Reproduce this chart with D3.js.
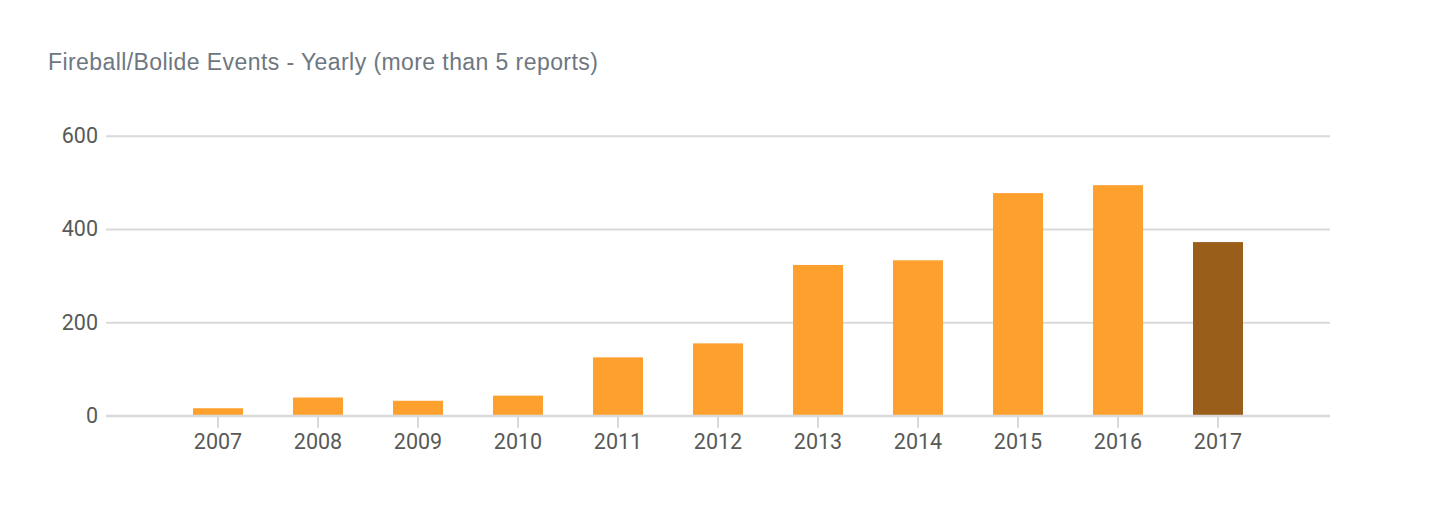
<!DOCTYPE html>
<html>
<head>
<meta charset="utf-8">
<script src="https://cdn.jsdelivr.net/npm/d3@7"></script>
<style>
  html, body { margin: 0; padding: 0; background: #fff; }
  svg { display: block; }
</style>
</head>
<body>
<svg id="chart" width="1434" height="528"></svg>
<script>
const title = "Fireball/Bolide Events - Yearly (more than 5 reports)";
const years = ["2007", "2008", "2009", "2010", "2011", "2012", "2013", "2014", "2015", "2016", "2017"];
const events = [16, 39, 32, 43, 125, 155, 323, 333, 477, 494, 372];
const yTicks = [0, 200, 400, 600];
const highlightYear = "2017";

const svg = d3.select("#chart");

const x = d3.scaleBand()
  .domain(years)
  .range([106, 1330])
  .paddingInner(0.5)
  .paddingOuter(0.87);

const y = d3.scaleLinear()
  .domain([0, 600])
  .range([415.7, 135.7]);

// title
svg.append("text")
  .attr("x", 48)
  .attr("y", 70)
  .attr("font-family", "'Liberation Sans', Arial, sans-serif")
  .attr("font-size", 23)
  .attr("letter-spacing", 0.42)
  .attr("fill", "#6e7781")
  .text(title);

// gridlines + y labels
const yAxis = d3.axisLeft(y).tickValues(yTicks).tickSize(-(1330 - 106)).tickPadding(8);
const gy = svg.append("g").attr("transform", "translate(106,0)").call(yAxis);
gy.select(".domain").remove();
gy.selectAll(".tick line").attr("stroke", "#d9d9d9").attr("stroke-width", 2);
gy.selectAll(".tick text")
  .attr("font-family", "Roboto, sans-serif")
  .attr("font-size", 21.5)
  .attr("fill", "#575a57");

// bars
svg.append("g").selectAll("rect")
  .data(years)
  .join("rect")
  .attr("x", d => x(d))
  .attr("width", x.bandwidth())
  .attr("y", (d, i) => y(events[i]))
  .attr("height", (d, i) => y(0) - y(events[i]))
  .attr("fill", d => d === highlightYear ? "#995e19" : "#fda02e");

// x axis
const xAxis = d3.axisBottom(x).tickSize(12).tickPadding(6);
const gx = svg.append("g").attr("transform", `translate(0,${y(0)})`).call(xAxis);
gx.select(".domain").remove();
gx.selectAll(".tick line").attr("stroke", "#d9d9d9").attr("stroke-width", 2);
gx.selectAll(".tick text")
  .attr("font-family", "Roboto, sans-serif")
  .attr("font-size", 21.5)
  .attr("fill", "#575a57");

// baseline on top
svg.append("line")
  .attr("x1", 106).attr("x2", 1330)
  .attr("y1", y(0)).attr("y2", y(0))
  .attr("stroke", "#d9d9d9").attr("stroke-width", 2);
</script>
</body>
</html>
